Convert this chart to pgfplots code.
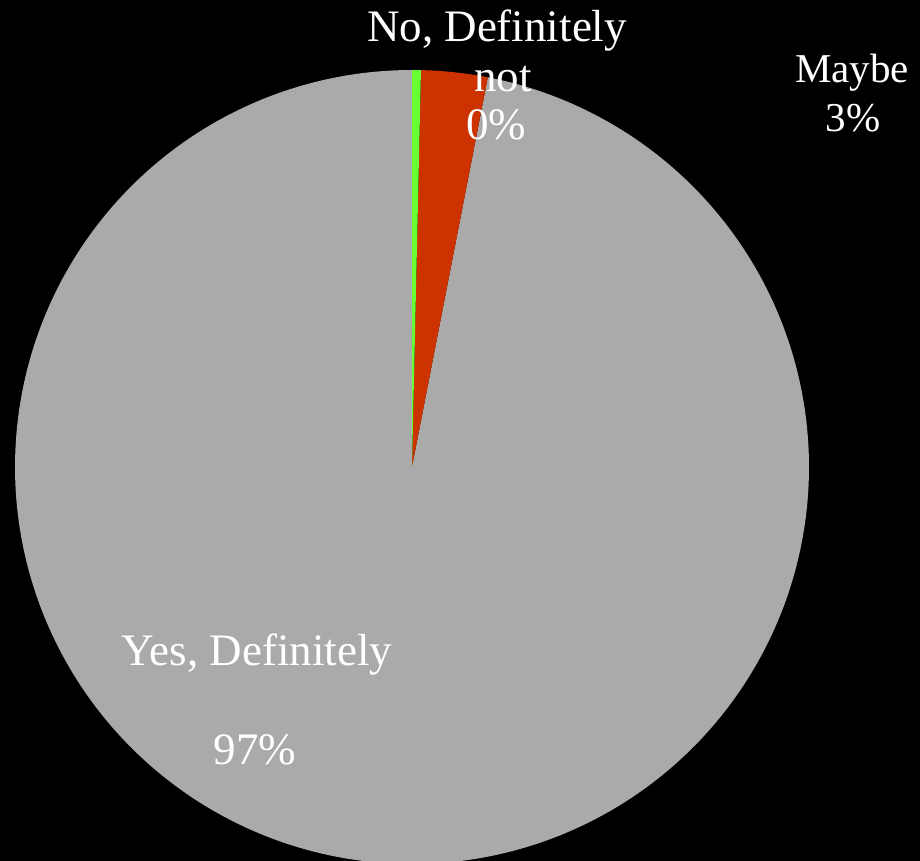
\documentclass[border=0pt]{standalone}
\usepackage{pgfplots}
\pgfplotsset{compat=1.18}
\usepackage{fontspec}
\setmainfont{Liberation Serif}
\definecolor{pieGray}{RGB}{170,170,170}
\definecolor{pieRed}{RGB}{204,51,0}
\definecolor{pieGreen}{RGB}{102,255,51}
% shares in percent (clockwise from 12 o'clock)
\def\vNo{0.36}
\def\vMaybe{2.70}
\def\vYes{96.94}
\pgfmathsetmacro\aA{90}
\pgfmathsetmacro\aB{\aA-3.6*\vNo}
\pgfmathsetmacro\aC{\aB-3.6*\vMaybe}
\pgfmathsetmacro\aD{\aC-3.6*\vYes}
\def\cx{412}
\def\cy{394}
\def\R{397}
\begin{document}
\begin{tikzpicture}
\fill[black] (0,0) rectangle (460pt,430.5pt);
\begin{axis}[
  at={(0,0)}, anchor=south west,
  scale only axis, width=460pt, height=430.5pt,
  xmin=0, xmax=920, ymin=0, ymax=861,
  hide axis, clip=true,
]
\addplot[draw=none, fill=pieGray, domain=\aC:\aD, samples=300, variable=\t]
  ({\cx+\R*cos(\t)},{\cy+\R*sin(\t)}) -- (axis cs:\cx,\cy) -- cycle;
\addplot[draw=none, fill=pieRed, domain=\aB:\aC, samples=20, variable=\t]
  ({\cx+\R*cos(\t)},{\cy+\R*sin(\t)}) -- (axis cs:\cx,\cy) -- cycle;
\addplot[draw=none, fill=pieGreen, domain=\aA:\aB, samples=5, variable=\t]
  ({\cx+\R*cos(\t)},{\cy+\R*sin(\t)}) -- (axis cs:\cx,\cy) -- cycle;
\begin{scope}[every node/.style={text=white, inner sep=0pt, anchor=base}]
\node[font=\fontsize{22.5}{24}\selectfont] at (axis cs:497,819) {No, Definitely};
\node[font=\fontsize{22.5}{24}\selectfont] at (axis cs:503,769) {not};
\node[font=\fontsize{22.5}{24}\selectfont] at (axis cs:496,721) {0\%};
\node[font=\fontsize{20.5}{22}\selectfont] at (axis cs:852,778) {Maybe};
\node[font=\fontsize{20.5}{22}\selectfont] at (axis cs:853,729) {3\%};
\node[font=\fontsize{22.5}{24}\selectfont] at (axis cs:257,195) {Yes, Definitely};
\node[font=\fontsize{22.5}{24}\selectfont] at (axis cs:255,96) {97\%};
\end{scope}
\end{axis}
\end{tikzpicture}
\end{document}
